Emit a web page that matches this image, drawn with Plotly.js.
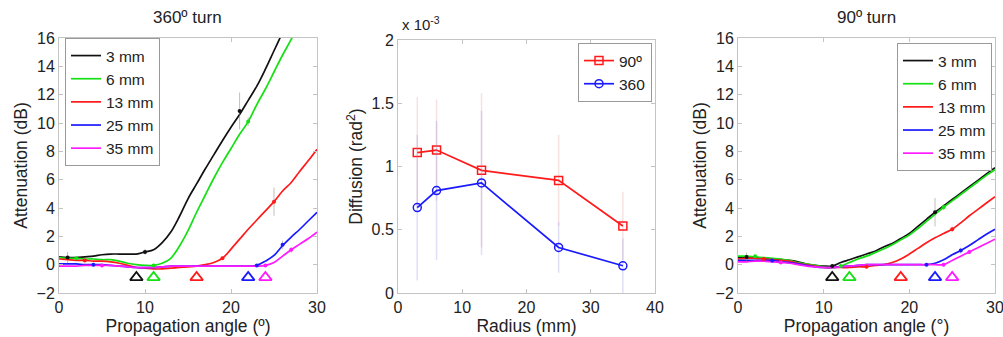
<!DOCTYPE html>
<html>
<head>
<meta charset="utf-8">
<script src="https://cdn.plot.ly/plotly-3.0.1.min.js"></script>
<style>html,body{margin:0;padding:0;background:#fff;}#chart{width:1003px;height:337px;}</style>
</head>
<body>
<div id="chart"></div>
<script>
// ---------- data ----------
const angles = [0,1,2,3,4,5,6,7,8,9,10,11,12,13,14,15,16,17,18,19,20,21,22,23,24,25,26,27,28,29,30];
const seriesNames = ['3 mm','6 mm','13 mm','25 mm','35 mm'];
const seriesColors = ['#111111','#14e014','#ff1a1a','#1a1aff','#ff1aff'];

// 360º turn attenuation (dB)
const t360_3mm  = [0.55,0.5,0.5,0.55,0.6,0.7,0.75,0.75,0.75,0.75,0.9,1.05,1.55,2.3,3.4,4.65,5.7,6.75,7.75,8.75,9.7,10.6,11.6,12.6,13.8,15.1,16.4,17.7,19.0,20.3,21.6];
const t360_6mm  = [0.5,0.45,0.45,0.4,0.4,0.35,0.35,0.25,0.1,0.0,-0.05,-0.05,0.1,0.45,1.3,2.4,3.7,4.9,6.1,7.2,8.2,9.2,10.1,11.3,12.4,13.6,14.8,15.9,17.1,18.3,19.5];
const t360_13mm = [0.4,0.35,0.3,0.3,0.25,0.25,0.2,0.1,-0.05,-0.2,-0.25,-0.3,-0.3,-0.25,-0.2,-0.15,-0.1,0.0,0.15,0.45,1.1,1.8,2.5,3.15,3.8,4.45,5.2,5.8,6.6,7.35,8.15];
const t360_25mm = [0.05,0.05,0.05,0.0,0.0,0.0,-0.05,-0.1,-0.15,-0.2,-0.2,-0.2,-0.15,-0.1,-0.1,-0.1,-0.1,-0.1,-0.1,-0.1,-0.1,-0.1,-0.1,-0.05,0.25,0.65,1.35,1.95,2.5,3.1,3.7];
const t360_35mm = [-0.1,-0.1,-0.1,-0.05,-0.05,-0.05,-0.05,-0.1,-0.15,-0.2,-0.2,-0.2,-0.15,-0.1,-0.1,-0.1,-0.1,-0.1,-0.1,-0.1,-0.1,-0.1,-0.1,-0.1,-0.05,0.15,0.6,1.05,1.45,1.85,2.3];

// 90º turn attenuation (dB)
const t90_3mm  = [0.5,0.55,0.5,0.45,0.4,0.35,0.3,0.2,0.05,-0.05,-0.1,-0.1,0.15,0.35,0.55,0.75,0.95,1.25,1.5,1.85,2.2,2.7,3.2,3.7,4.15,4.6,5.05,5.5,5.95,6.4,6.85];
const t90_6mm  = [0.6,0.6,0.55,0.5,0.45,0.4,0.3,0.15,0.05,-0.05,-0.15,-0.2,-0.1,0.15,0.4,0.6,0.85,1.1,1.4,1.75,2.1,2.55,3.05,3.55,4.05,4.5,4.95,5.4,5.85,6.3,6.7];
const t90_13mm = [0.4,0.45,0.45,0.4,0.35,0.3,0.25,0.1,0.0,-0.1,-0.2,-0.2,-0.2,-0.2,-0.15,-0.15,-0.05,0.0,0.15,0.4,0.75,1.15,1.55,1.9,2.2,2.5,2.95,3.45,3.9,4.35,4.8];
const t90_25mm = [0.3,0.3,0.3,0.3,0.3,0.2,0.15,0.05,-0.05,-0.15,-0.2,-0.2,-0.15,-0.1,-0.05,0.0,0.0,0.0,0.0,0.0,0.0,0.0,0.0,0.1,0.35,0.7,1.0,1.35,1.75,2.15,2.5];
const t90_35mm = [0.2,0.2,0.25,0.25,0.2,0.15,0.1,0.0,-0.1,-0.15,-0.2,-0.2,-0.15,-0.1,-0.05,0.0,0.0,0.0,0.0,0.0,0.0,0.0,0.0,0.0,0.0,0.3,0.6,0.9,1.2,1.5,1.8];

// measured points (angle, value, error) on each curve
const p360_x   = [[1,10,21],[2,11,22],[3,19,25],[4,23,26],[5,24,27]];
const p360_y   = [[0.5,0.9,10.85],[0.45,-0.05,10.1],[0.3,0.45,4.45],[0.0,-0.05,1.4],[-0.05,-0.05,1.05]];
const p360_err = [[0.4,0.2,1.3],[0.1,0.1,0.3],[0.1,0.1,1.0],[0.1,0.1,0.3],[0.1,0.1,0.2]];
const p90_x    = [[1,11,23],[2,12,24],[3,15,25],[4,22,26],[5,24,27]];
const p90_y    = [[0.55,-0.1,3.7],[0.6,-0.1,4.05],[0.4,-0.15,2.5],[0.3,0.0,1.0],[0.15,0.0,0.9]];
const p90_err  = [[0.3,0.15,1.0],[0.1,0.1,0.2],[0.1,0.1,0.2],[0.1,0.1,0.2],[0.1,0.1,0.15]];

// onset angles (triangles)
const onset360 = [9,11,16,22,24];
const onset90  = [11,13,19,23,25];
const onsetLevel = -0.9;

// diffusion (x 10^-3 rad^2)
const radius = [3,6,13,25,35];
const diff90  = [1.11,1.13,0.97,0.89,0.53];
const diff360 = [0.675,0.81,0.87,0.36,0.215];
const err90   = [0.44,0.40,0.61,0.36,0.27];
const err360  = [0.575,0.55,0.57,0.20,0.215];

// ---------- build ----------
const FONT = 'Liberation Sans, Arial, Helvetica, sans-serif';
const traces = [];
const t360 = [t360_3mm,t360_6mm,t360_13mm,t360_25mm,t360_35mm];
const t90  = [t90_3mm,t90_6mm,t90_13mm,t90_25mm,t90_35mm];

function addPanel(curves, px, py, perr, onset, xa, ya, legendId) {
  curves.forEach((ys, i) => {
    traces.push({
      x: angles, y: ys, type: 'scatter', mode: 'lines',
      line: {color: seriesColors[i], width: 1.7, shape: 'spline', smoothing: 1},
      name: seriesNames[i], xaxis: xa, yaxis: ya, legend: legendId, showlegend: true
    });
  });
  px.forEach((xs, i) => {
    traces.push({
      x: xs, y: py[i], type: 'scatter', mode: 'markers',
      marker: {color: seriesColors[i], size: 4},
      error_y: {type: 'data', array: perr[i], visible: true, color: 'rgba(130,130,130,0.5)', thickness: 1, width: 0},
      xaxis: xa, yaxis: ya, showlegend: false, hoverinfo: 'skip'
    });
  });
  traces.push({
    x: onset, y: onset.map(() => onsetLevel), type: 'scatter', mode: 'markers',
    marker: {symbol: 'triangle-up-open', size: 11, color: seriesColors, line: {width: 1.8, color: seriesColors}},
    xaxis: xa, yaxis: ya, showlegend: false, hoverinfo: 'skip'
  });
}

addPanel(t360, p360_x, p360_y, p360_err, onset360, 'x', 'y', 'legend');
addPanel(t90, p90_x, p90_y, p90_err, onset90, 'x3', 'y3', 'legend3');

traces.push({
  x: radius, y: diff90, type: 'scatter', mode: 'lines+markers', name: '90º',
  line: {color: '#ff1a1a', width: 1.7}, marker: {symbol: 'square-open', size: 8, color: '#ff1a1a', line: {width: 1.5}},
  error_y: {type: 'data', array: err90, visible: true, color: 'rgba(225,150,150,0.28)', thickness: 1.5, width: 0},
  xaxis: 'x2', yaxis: 'y2', legend: 'legend2'
});
traces.push({
  x: radius, y: diff360, type: 'scatter', mode: 'lines+markers', name: '360',
  line: {color: '#1a1aff', width: 1.7}, marker: {symbol: 'circle-open', size: 8, color: '#1a1aff', line: {width: 1.5}},
  error_y: {type: 'data', array: err360, visible: true, color: 'rgba(140,140,225,0.28)', thickness: 1.5, width: 0},
  xaxis: 'x2', yaxis: 'y2', legend: 'legend2'
});

const W = 1003, H = 337;
const fx = p => p / W;
const fy = p => 1 - p / H;

const axisCommon = {
  showline: true, mirror: 'ticks', linecolor: '#c4c4c4', linewidth: 1,
  ticks: 'inside', ticklen: 4, tickcolor: '#c4c4c4', showgrid: false, zeroline: false,
  tickfont: {family: FONT, size: 16, color: '#222'}, fixedrange: true, ticklabeloverflow: 'allow'
};
const titleFont = {family: FONT, size: 17.5, color: '#222'};
const legendFont = {family: FONT, size: 15.5, color: '#222'};

const layout = {
  width: W, height: H,
  margin: {l: 0, r: 0, t: 0, b: 0},
  paper_bgcolor: '#fff', plot_bgcolor: '#fff',
  font: {family: FONT, size: 16, color: '#222'},
  xaxis: Object.assign({}, axisCommon, {domain: [fx(59), fx(317)], range: [0, 30], tickvals: [0,10,20,30], anchor: 'y',
    title: {text: 'Propagation angle (º)', font: titleFont, standoff: 0}}),
  yaxis: Object.assign({}, axisCommon, {domain: [fy(293), fy(38)], range: [-2, 16], dtick: 2, anchor: 'x',
    title: {text: 'Attenuation (dB)', font: titleFont, standoff: 4}}),
  xaxis2: Object.assign({}, axisCommon, {domain: [fx(398), fx(655)], range: [0, 40], tickvals: [0,10,20,30,40], anchor: 'y2',
    title: {text: 'Radius (mm)', font: titleFont, standoff: 0}}),
  yaxis2: Object.assign({}, axisCommon, {domain: [fy(293), fy(40)], range: [0, 2], tickvals: [0,0.5,1,1.5,2], ticktext: ['0','0.5','1','1.5','2'], anchor: 'x2',
    title: {text: 'Diffusion (rad<sup>2</sup>)', font: titleFont, standoff: 4}}),
  xaxis3: Object.assign({}, axisCommon, {domain: [fx(738), fx(995)], range: [0, 30], tickvals: [0,10,20,30], anchor: 'y3',
    title: {text: 'Propagation angle (°)', font: titleFont, standoff: 0}}),
  yaxis3: Object.assign({}, axisCommon, {domain: [fy(293), fy(38)], range: [-2, 16], dtick: 2, anchor: 'x3',
    title: {text: 'Attenuation (dB)', font: titleFont, standoff: 4}}),
  legend: {x: fx(65), y: fy(38), xanchor: 'left', yanchor: 'top', bgcolor: '#fff', bordercolor: '#999', borderwidth: 1, font: legendFont},
  legend2: {x: fx(652), y: fy(43), xanchor: 'right', yanchor: 'top', bgcolor: '#fff', bordercolor: '#999', borderwidth: 1, font: legendFont},
  legend3: {x: fx(992), y: fy(43), xanchor: 'right', yanchor: 'top', bgcolor: '#fff', bordercolor: '#999', borderwidth: 1, font: legendFont},
  annotations: [
    {text: '360º turn', xref: 'paper', yref: 'paper', x: fx(187), y: fy(18), xanchor: 'center', yanchor: 'middle', showarrow: false,
      font: {family: FONT, size: 17, color: '#222'}},
    {text: '90º turn', xref: 'paper', yref: 'paper', x: fx(866), y: fy(18), xanchor: 'center', yanchor: 'middle', showarrow: false,
      font: {family: FONT, size: 17, color: '#222'}},
    {text: 'x 10<sup>-3</sup>', xref: 'paper', yref: 'paper', x: fx(400), y: fy(23), xanchor: 'left', yanchor: 'middle', showarrow: false,
      font: {family: FONT, size: 15, color: '#222'}}
  ],
  showlegend: true
};

Plotly.newPlot('chart', traces, layout, {staticPlot: true, displayModeBar: false});
</script>
</body>
</html>
